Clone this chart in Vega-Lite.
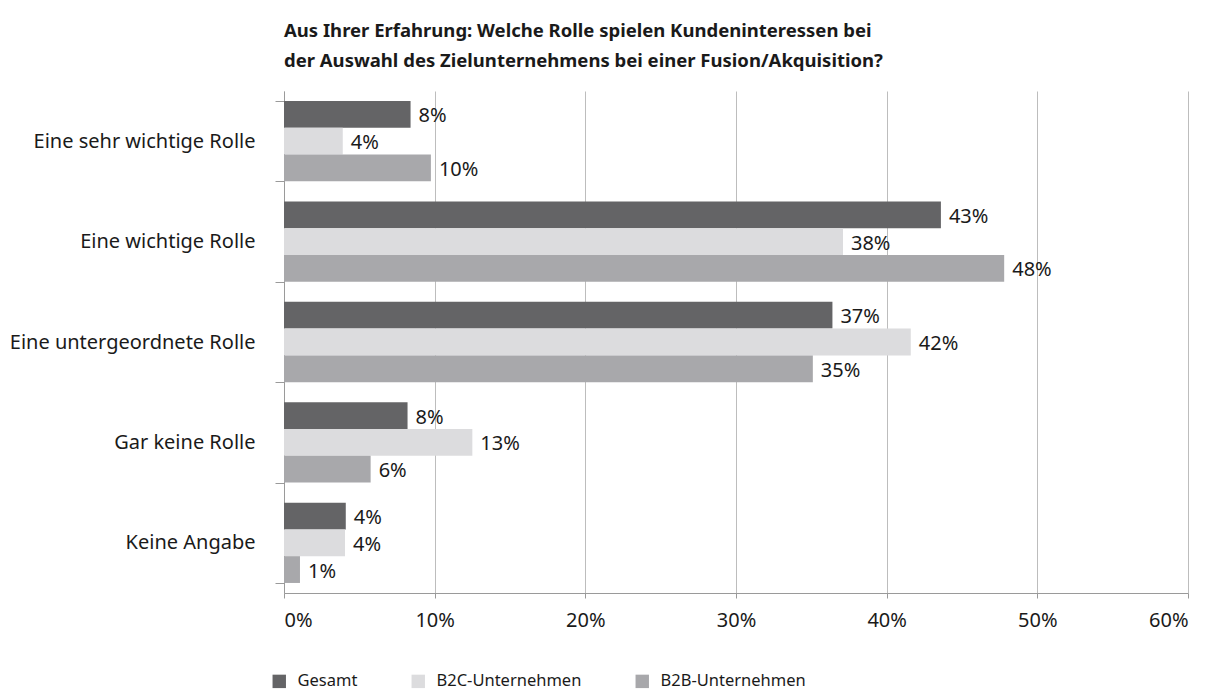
{
  "$schema": "https://vega.github.io/schema/vega-lite/v6.json",
  "width": 904,
  "height": 502,
  "autosize": {"type": "none"},
  "padding": {"left": 284, "top": 91, "right": 30, "bottom": 98},
  "background": "white",
  "config": {
    "font": "Noto Sans",
    "view": {"stroke": null},
    "text": {"font": "Noto Sans"}
  },
  "title": {
    "text": ["Aus Ihrer Erfahrung: Welche Rolle spielen Kundeninteressen bei", "der Auswahl des Zielunternehmens bei einer Fusion/Akquisition?"],
    "anchor": "start",
    "frame": "group",
    "fontSize": 18.5,
    "fontWeight": "bold",
    "color": "#1a1a1a",
    "lineHeight": 30,
    "offset": 11
  },
  "data": {
    "values": [
      {"kategorie": "Eine sehr wichtige Rolle", "gruppe": "Gesamt", "wert": 8.4, "label": "8%"},
      {"kategorie": "Eine sehr wichtige Rolle", "gruppe": "B2C-Unternehmen", "wert": 3.9, "label": "4%"},
      {"kategorie": "Eine sehr wichtige Rolle", "gruppe": "B2B-Unternehmen", "wert": 9.75, "label": "10%"},
      {"kategorie": "Eine wichtige Rolle", "gruppe": "Gesamt", "wert": 43.6, "label": "43%"},
      {"kategorie": "Eine wichtige Rolle", "gruppe": "B2C-Unternehmen", "wert": 37.1, "label": "38%"},
      {"kategorie": "Eine wichtige Rolle", "gruppe": "B2B-Unternehmen", "wert": 47.8, "label": "48%"},
      {"kategorie": "Eine untergeordnete Rolle", "gruppe": "Gesamt", "wert": 36.4, "label": "37%"},
      {"kategorie": "Eine untergeordnete Rolle", "gruppe": "B2C-Unternehmen", "wert": 41.6, "label": "42%"},
      {"kategorie": "Eine untergeordnete Rolle", "gruppe": "B2B-Unternehmen", "wert": 35.1, "label": "35%"},
      {"kategorie": "Gar keine Rolle", "gruppe": "Gesamt", "wert": 8.2, "label": "8%"},
      {"kategorie": "Gar keine Rolle", "gruppe": "B2C-Unternehmen", "wert": 12.5, "label": "13%"},
      {"kategorie": "Gar keine Rolle", "gruppe": "B2B-Unternehmen", "wert": 5.75, "label": "6%"},
      {"kategorie": "Keine Angabe", "gruppe": "Gesamt", "wert": 4.1, "label": "4%"},
      {"kategorie": "Keine Angabe", "gruppe": "B2C-Unternehmen", "wert": 4.05, "label": "4%"},
      {"kategorie": "Keine Angabe", "gruppe": "B2B-Unternehmen", "wert": 1.06, "label": "1%"}
    ]
  },
  "encoding": {
    "y": {
      "field": "kategorie",
      "type": "nominal",
      "sort": ["Eine sehr wichtige Rolle", "Eine wichtige Rolle", "Eine untergeordnete Rolle", "Gar keine Rolle", "Keine Angabe"],
      "scale": {"paddingInner": 0.2, "paddingOuter": 0.1},
      "axis": {
        "title": null,
        "tickBand": "extent",
        "tickSize": 9,
        "tickColor": "#9a9a9a",
        "domainColor": "#9a9a9a",
        "labelFontSize": 20,
        "labelColor": "#1a1a1a",
        "labelPadding": 20,
        "labelLimit": 400
      }
    },
    "yOffset": {
      "field": "gruppe",
      "type": "nominal",
      "sort": ["Gesamt", "B2C-Unternehmen", "B2B-Unternehmen"]
    },
    "x": {
      "field": "wert",
      "type": "quantitative",
      "scale": {"domain": [0, 60], "nice": false},
      "axis": {
        "title": null,
        "values": [0, 10, 20, 30, 40, 50, 60],
        "labelExpr": "datum.value + '%'",
        "grid": true,
        "gridColor": "#bdbdbd",
        "gridWidth": 1,
        "domainColor": "#9a9a9a",
        "tickColor": "#9a9a9a",
        "tickSize": 5,
        "labelPadding": 12,
        "labelFontSize": 20,
        "labelColor": "#1a1a1a"
      }
    }
  },
  "layer": [
    {
      "mark": {"type": "bar"},
      "encoding": {
        "color": {
          "field": "gruppe",
          "type": "nominal",
          "sort": ["Gesamt", "B2C-Unternehmen", "B2B-Unternehmen"],
          "scale": {
            "domain": ["Gesamt", "B2C-Unternehmen", "B2B-Unternehmen"],
            "range": ["#646466", "#dcdcde", "#a8a8ab"]
          },
          "legend": {
            "title": null,
            "orient": "none",
            "direction": "horizontal",
            "legendX": -13,
            "legendY": 582,
            "symbolType": "square",
            "symbolSize": 180,
            "symbolStrokeWidth": 0,
            "labelFontSize": 16.5,
            "labelColor": "#1a1a1a",
            "labelOffset": 10,
            "columnPadding": 52
          }
        }
      }
    },
    {
      "mark": {"type": "text", "align": "left", "baseline": "middle", "dx": 8, "dy": 2, "fontSize": 20, "color": "#1a1a1a"},
      "encoding": {
        "text": {"field": "label"}
      }
    }
  ]
}
